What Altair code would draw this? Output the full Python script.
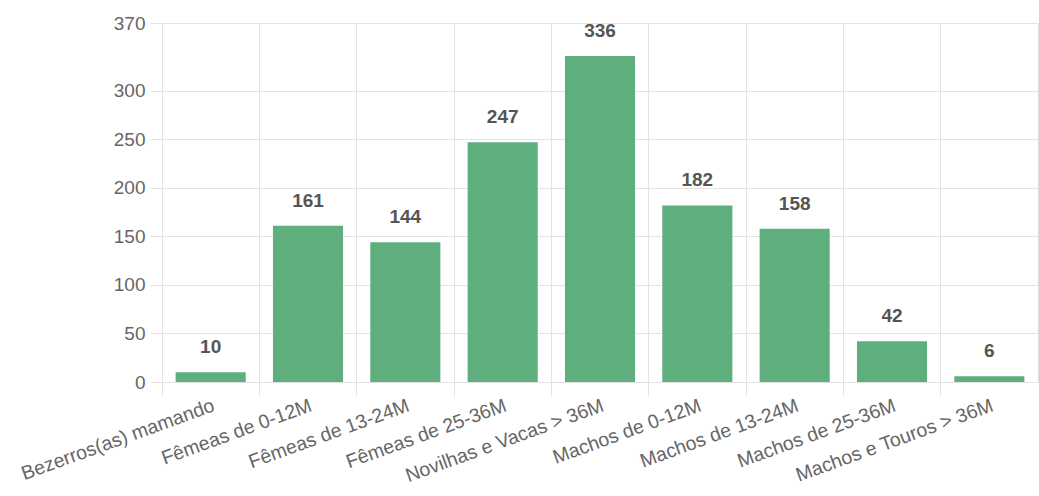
import altair as alt
import pandas as pd

categories = [
    "Bezerros(as) mamando",
    "Fêmeas de 0-12M",
    "Fêmeas de 13-24M",
    "Fêmeas de 25-36M",
    "Novilhas e Vacas > 36M",
    "Machos de 0-12M",
    "Machos de 13-24M",
    "Machos de 25-36M",
    "Machos e Touros > 36M",
]
values = [10, 161, 144, 247, 336, 182, 158, 42, 6]
y_ticks = [0, 50, 100, 150, 200, 250, 300, 370]

df = pd.DataFrame({"categoria": categories, "valor": values})

W = 876
H = 359
FONT = "Liberation Sans"
GRID = "#e3e3e3"

x_enc = alt.X(
    "categoria:N",
    sort=categories,
    title=None,
    scale=alt.Scale(paddingInner=0, paddingOuter=0),
    axis=alt.Axis(
        bandPosition=0,
        grid=True,
        gridColor=GRID,
        ticks=True,
        tickSize=14,
        tickColor=GRID,
        domain=False,
        labelAngle=-20,
        labelAlign="right",
        labelBaseline="top",
        labelPadding=0,
        labelFont=FONT,
        labelFontSize=19.5,
        labelColor="#666666",
        labelOverlap=False,
        labelLimit=400,
    ),
)

y_enc = alt.Y(
    "valor:Q",
    title=None,
    scale=alt.Scale(domain=[0, 370], nice=False, zero=True),
    axis=alt.Axis(
        values=y_ticks,
        grid=True,
        gridColor=GRID,
        ticks=True,
        tickSize=12,
        tickColor=GRID,
        domain=False,
        labelFont=FONT,
        labelFontSize=19,
        labelColor="#666666",
        labelPadding=5,
    ),
)

bars = alt.Chart(df).mark_bar(
    color="#5fae7e",
    width=alt.RelativeBandSize(0.72),
).encode(x=x_enc, y=y_enc)

labels = alt.Chart(df).mark_text(
    font=FONT,
    fontSize=19,
    fontWeight="bold",
    color="#555555",
    baseline="alphabetic",
    dy=-19,
).encode(
    x=alt.X("categoria:N", sort=categories),
    y=alt.Y("valor:Q"),
    text=alt.Text("valor:Q"),
)

chart = (
    alt.layer(bars, labels)
    .properties(
        width=W,
        height=H,
        autosize=alt.AutoSizeParams(type="none"),
        padding={"left": 162, "top": 23, "right": 1, "bottom": 114},
    )
    .configure_view(stroke=None)
    .configure(background="white")
)

chart.save("out.html", embed_options={"renderer": "svg", "actions": False})
